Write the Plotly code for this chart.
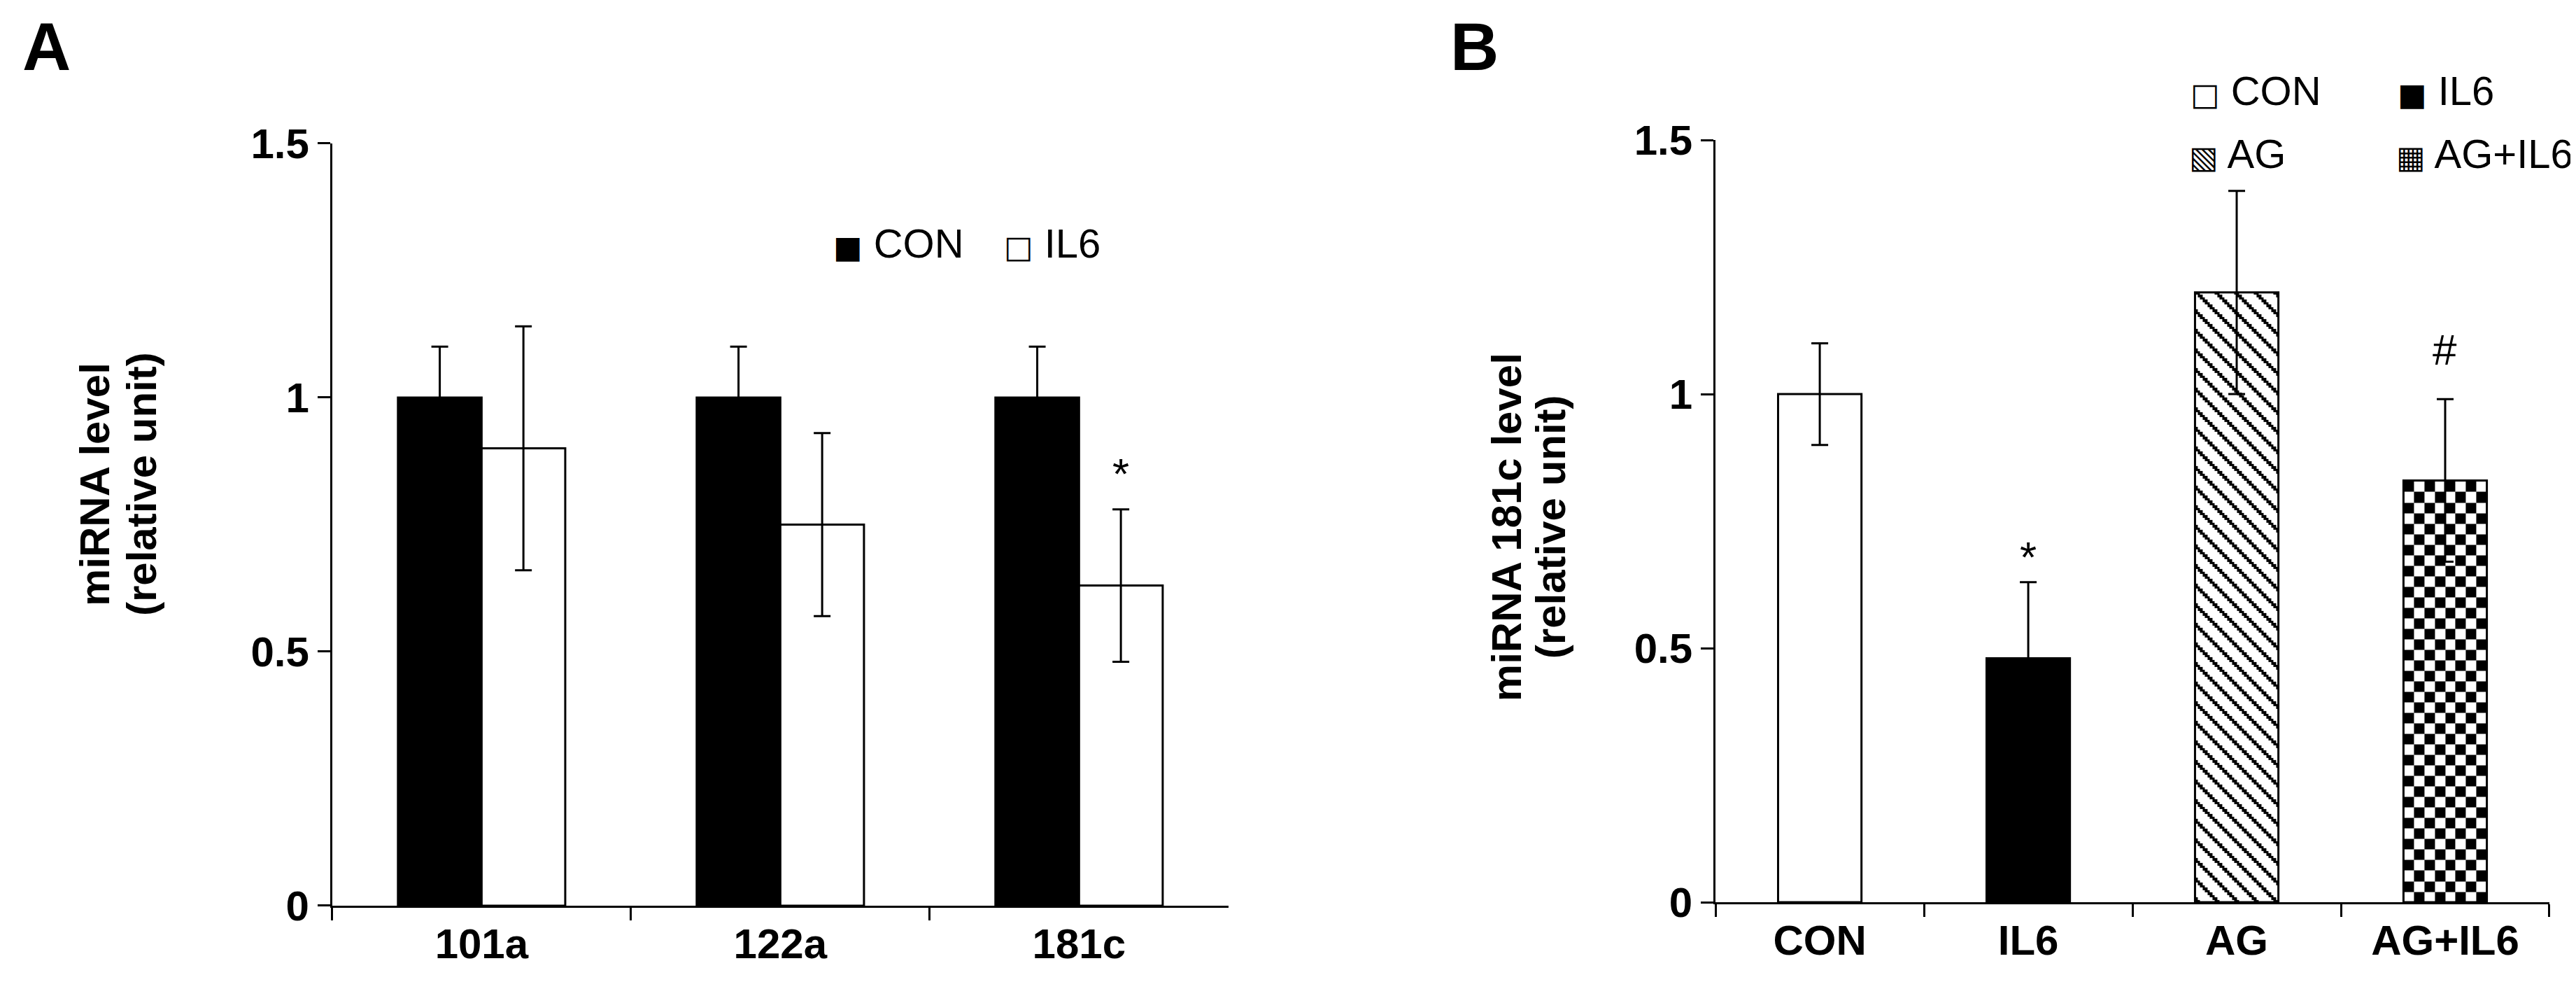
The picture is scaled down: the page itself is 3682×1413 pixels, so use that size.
import numpy as np
import plotly.graph_objects as go

# ---- panel A: miRNA levels, CON vs IL6 ----
mirnas = ["101a", "122a", "181c"]
con_a = [1.00, 1.00, 1.00]
con_a_err = [0.10, 0.10, 0.10]
il6_a = [0.90, 0.75, 0.63]
il6_a_err = [0.24, 0.18, 0.15]
sig_a = ["", "", "*"]
sig_a_y = [None, None, 0.85]

# ---- panel B: miRNA 181c by treatment ----
groups_b = ["CON", "IL6", "AG", "AG+IL6"]
mir181c_b = [1.00, 0.48, 1.20, 0.83]
mir181c_b_err = [0.10, 0.15, 0.20, 0.16]
sig_b = ["", "*", "", "#"]
sig_b_y = [None, 0.68, None, 1.087]

FONT = "Liberation Sans, Arial, sans-serif"
TICK_FONT = dict(family=FONT, size=60, color="black", weight="bold")
LINE_W = 3

fig = go.Figure()

# ── Panel A bars ──────────────────────────────────────────────────────────
fig.add_trace(go.Bar(
    x=mirnas, y=con_a, name="CON", xaxis="x", yaxis="y",
    marker=dict(color="black", line=dict(color="black", width=LINE_W)),
    error_y=dict(type="data", array=con_a_err, color="black",
                 thickness=LINE_W, width=12),
))
fig.add_trace(go.Bar(
    x=mirnas, y=il6_a, name="IL6", xaxis="x", yaxis="y",
    marker=dict(color="white", line=dict(color="black", width=LINE_W)),
    error_y=dict(type="data", array=il6_a_err, color="black",
                 thickness=LINE_W, width=12),
))

# ── Panel B: fill textures (heatmaps sit under the bar outlines) ─────────
pos_b = list(range(len(groups_b)))
bar_w_b = 0.4


def texture(idx, n_cols, cell_y, rule):
    """Black/white cell grid filling bar idx of panel B."""
    top = mir181c_b[idx]
    xe = np.linspace(pos_b[idx] - bar_w_b / 2, pos_b[idx] + bar_w_b / 2, n_cols + 1)
    ye = np.append(np.arange(0, top - cell_y / 2, cell_y), top)
    r, c = np.indices((len(ye) - 1, n_cols))
    return go.Heatmap(
        x=xe, y=ye, z=rule(r, c).astype(int), xaxis="x2", yaxis="y2",
        colorscale=[[0, "white"], [1, "black"]], zmin=0, zmax=1,
        showscale=False, hoverinfo="skip",
    )


# AG: diagonal "\" hatch
fig.add_trace(texture(groups_b.index("AG"), 34, 0.00482,
                      lambda r, c: (r + c) % 8 < 2))
# AG+IL6: checkerboard
fig.add_trace(texture(groups_b.index("AG+IL6"), 8, 0.0207,
                      lambda r, c: (r + c) % 2 == 1))

fig.add_trace(go.Bar(
    x=pos_b, y=mir181c_b, width=bar_w_b, xaxis="x2", yaxis="y2",
    marker=dict(
        color=["white", "black", "rgba(0,0,0,0)", "rgba(0,0,0,0)"],
        line=dict(color="black", width=LINE_W),
    ),
    error_y=dict(type="data", array=mir181c_b_err, color="black",
                 thickness=LINE_W, width=12),
))

axis_common = dict(
    showline=True, linecolor="black", linewidth=LINE_W,
    showgrid=False, zeroline=False, ticks="outside",
    ticklen=18, tickwidth=LINE_W, tickcolor="black",
    tickfont=TICK_FONT, automargin=False,
)

fig.update_layout(
    width=3682, height=1413,
    margin=dict(l=0, r=0, t=0, b=0),
    paper_bgcolor="white", plot_bgcolor="white",
    showlegend=False,
    barmode="group", bargap=0.44, bargroupgap=0,
    font=dict(family=FONT, color="black"),
    xaxis=dict(**axis_common, domain=[0.1268, 0.4747], tickson="boundaries",
               anchor="y"),
    yaxis=dict(**axis_common, domain=[0.0899, 0.8606], range=[0, 1.5],
               tickvals=[0, 0.5, 1, 1.5], anchor="x"),
    xaxis2=dict(**{**axis_common, "ticks": ""}, domain=[0.6638, 0.9875],
                range=[-0.5, len(groups_b) - 0.5], tickvals=pos_b,
                ticktext=groups_b, anchor="y2",
                minor=dict(tickvals=[p - 0.5 for p in pos_b] + [pos_b[-1] + 0.5],
                           ticks="outside", ticklen=18, tickwidth=LINE_W,
                           tickcolor="black")),
    yaxis2=dict(**axis_common, domain=[0.0934, 0.8641], range=[0, 1.5],
                tickvals=[0, 0.5, 1, 1.5], anchor="x2"),
)

annos = []
# panel letters
for letter, x in [("A", 0.0158), ("B", 0.5703)]:
    annos.append(dict(text=letter, x=x, y=0.998, xref="paper", yref="paper",
                      showarrow=False, xanchor="center", yanchor="top",
                      font=dict(family=FONT, size=96, weight="bold")))

# y axis titles (two lines each)
title_font = dict(family=FONT, size=60, weight="bold")
for txt, x, y in [("miRNA level", 0.0348, 0.516),
                  ("(relative unit)", 0.0530, 0.516),
                  ("miRNA 181c level", 0.5826, 0.4727),
                  ("(relative unit)", 0.5997, 0.4727)]:
    annos.append(dict(text=txt, x=x, y=y, xref="paper", yref="paper",
                      textangle=-90, showarrow=False, xanchor="center",
                      yanchor="middle", font=title_font))

# legends
leg_font = dict(family=FONT, size=58)
sw = '<span style="font-family:DejaVu Sans;font-size:44px">{}</span> {}'
for sym, name, x, y in [("■", "CON", 0.3207, 0.7594),
                        ("□", "IL6", 0.3870, 0.7594),
                        ("□", groups_b[0], 0.8476, 0.9137),
                        ("■", groups_b[1], 0.9280, 0.9137),
                        ("▧", groups_b[2], 0.8471, 0.8500),
                        ("▦", groups_b[3], 0.9275, 0.8500)]:
    annos.append(dict(text=sw.format(sym, name), x=x, y=y, xref="paper",
                      yref="paper", showarrow=False, xanchor="left",
                      yanchor="middle", font=leg_font))

# significance marks
sig_font = dict(family=FONT, size=62)
for i, (s, yv) in enumerate(zip(sig_a, sig_a_y)):
    if s:
        annos.append(dict(text=s, x=mirnas[i], y=yv, xref="x", yref="y",
                          xshift=60, showarrow=False, font=sig_font))
for i, (s, yv) in enumerate(zip(sig_b, sig_b_y)):
    if s:
        annos.append(dict(text=s, x=pos_b[i], y=yv, xref="x2", yref="y2",
                          showarrow=False, font=sig_font))

fig.update_layout(annotations=annos)

fig.write_html("out.html")
